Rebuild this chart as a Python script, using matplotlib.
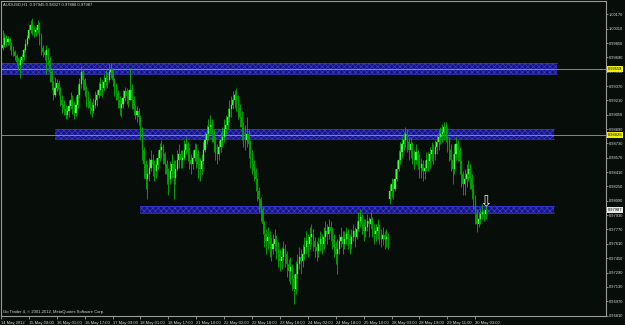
import matplotlib
matplotlib.use('Agg')
import matplotlib.pyplot as plt
from matplotlib.patches import Rectangle

# ---------------- data ----------------
title_text = "AUDUSD,H1  0.97945 0.98027 0.97888 0.97987"
footer_text = "Go Trader 4, \u00a9 2001-2012, MetaQuotes Software Corp."

close = [
    0.9983, 0.9991, 0.9986, 0.9989, 0.9983, 0.9977, 0.9975, 0.9971, 0.9964, 0.9961,
    0.9966, 0.9969, 0.9977, 0.9984, 0.9991, 1.0000, 1.0005, 1.0002, 0.9997, 1.0000,
    1.0005, 0.9994, 0.9980, 0.9975, 0.9972, 0.9977, 0.9966, 0.9953, 0.9942, 0.9927,
    0.9935, 0.9940, 0.9933, 0.9922, 0.9916, 0.9911, 0.9905, 0.9909, 0.9915, 0.9922,
    0.9913, 0.9907, 0.9916, 0.9927, 0.9939, 0.9953, 0.9944, 0.9933, 0.9924, 0.9920,
    0.9913, 0.9909, 0.9916, 0.9922, 0.9927, 0.9933, 0.9939, 0.9935, 0.9942, 0.9946,
    0.9944, 0.9953, 0.9955, 0.9944, 0.9935, 0.9929, 0.9922, 0.9913, 0.9917, 0.9924,
    0.9931, 0.9926, 0.9922, 0.9933, 0.9922, 0.9911, 0.9905, 0.9909, 0.9902, 0.9889,
    0.9866, 0.9850, 0.9833, 0.9839, 0.9846, 0.9855, 0.9850, 0.9842, 0.9849, 0.9857,
    0.9866, 0.9869, 0.9861, 0.9850, 0.9839, 0.9833, 0.9842, 0.9850, 0.9835, 0.9844,
    0.9855, 0.9861, 0.9855, 0.9857, 0.9866, 0.9872, 0.9864, 0.9855, 0.9850, 0.9857,
    0.9866, 0.9861, 0.9850, 0.9844, 0.9853, 0.9866, 0.9877, 0.9883, 0.9891, 0.9894,
    0.9883, 0.9875, 0.9866, 0.9861, 0.9869, 0.9877, 0.9880, 0.9889, 0.9894, 0.9902,
    0.9911, 0.9916, 0.9922, 0.9927, 0.9922, 0.9913, 0.9902, 0.9891, 0.9883, 0.9877,
    0.9883, 0.9872, 0.9861, 0.9850, 0.9842, 0.9833, 0.9820, 0.9811, 0.9800, 0.9783,
    0.9772, 0.9764, 0.9769, 0.9761, 0.9755, 0.9761, 0.9766, 0.9757, 0.9750, 0.9742,
    0.9746, 0.9755, 0.9750, 0.9739, 0.9731, 0.9735, 0.9722, 0.9711, 0.9727, 0.9739,
    0.9746, 0.9742, 0.9750, 0.9757, 0.9764, 0.9761, 0.9769, 0.9772, 0.9764, 0.9757,
    0.9753, 0.9761, 0.9766, 0.9761, 0.9769, 0.9775, 0.9772, 0.9780, 0.9775, 0.9766,
    0.9757, 0.9750, 0.9755, 0.9764, 0.9769, 0.9761, 0.9766, 0.9772, 0.9766, 0.9761,
    0.9769, 0.9775, 0.9769, 0.9777, 0.9786, 0.9791, 0.9783, 0.9775, 0.9780, 0.9786,
    0.9783, 0.9789, 0.9780, 0.9772, 0.9775, 0.9780, 0.9772, 0.9766, 0.9771, 0.9766,
    0.9769, 0.9764,
    0.9820, 0.9828, 0.9822, 0.9833, 0.9844, 0.9855, 0.9864, 0.9872,
    0.9877, 0.9883, 0.9875, 0.9866, 0.9872, 0.9861, 0.9855, 0.9864, 0.9855, 0.9846,
    0.9850, 0.9842, 0.9846, 0.9855, 0.9853, 0.9861, 0.9866, 0.9861, 0.9869, 0.9875,
    0.9880, 0.9883, 0.9886, 0.9891, 0.9889, 0.9877, 0.9866, 0.9855, 0.9844, 0.9861,
    0.9872, 0.9866, 0.9853, 0.9839, 0.9828, 0.9833, 0.9839, 0.9844, 0.9835, 0.9822,
    0.9813, 0.9794, 0.9783, 0.9789, 0.9794, 0.9797, 0.97945, 0.97987,
]

high = [
    1.0000, 0.9996, 0.9994, 0.9993, 0.9991, 0.9986, 0.9982, 0.9977, 0.9973, 0.9969,
    0.9971, 0.9973, 0.9980, 0.9989, 0.9994, 1.0005, 1.0011, 1.0013, 1.0005, 1.0003,
    1.0011, 1.0009, 0.9996, 0.9983, 0.9977, 0.9983, 0.9980, 0.9969, 0.9955, 0.9944,
    0.9947, 0.9945, 0.9944, 0.9936, 0.9927, 0.9922, 0.9916, 0.9915, 0.9922, 0.9930,
    0.9927, 0.9920, 0.9926, 0.9939, 0.9946, 0.9959, 0.9955, 0.9946, 0.9937, 0.9931,
    0.9924, 0.9919, 0.9924, 0.9931, 0.9933, 0.9942, 0.9947, 0.9944, 0.9950, 0.9955,
    0.9953, 0.9962, 0.9963, 0.9957, 0.9946, 0.9940, 0.9933, 0.9926, 0.9924, 0.9933,
    0.9936, 0.9935, 0.9933, 0.9957, 0.9939, 0.9926, 0.9916, 0.9915, 0.9913, 0.9905,
    0.9891, 0.9869, 0.9855, 0.9850, 0.9857, 0.9866, 0.9861, 0.9855, 0.9857, 0.9866,
    0.9874, 0.9877, 0.9872, 0.9864, 0.9855, 0.9846, 0.9853, 0.9861, 0.9855, 0.9855,
    0.9866, 0.9872, 0.9866, 0.9866, 0.9877, 0.9880, 0.9875, 0.9869, 0.9861, 0.9866,
    0.9874, 0.9872, 0.9866, 0.9857, 0.9861, 0.9875, 0.9886, 0.9894, 0.9900, 0.9905,
    0.9900, 0.9889, 0.9880, 0.9872, 0.9877, 0.9886, 0.9891, 0.9900, 0.9905, 0.9913,
    0.9922, 0.9926, 0.9931, 0.9933, 0.9935, 0.9927, 0.9917, 0.9909, 0.9897, 0.9894,
    0.9902, 0.9889, 0.9877, 0.9866, 0.9855, 0.9846, 0.9835, 0.9824, 0.9813, 0.9802,
    0.9786, 0.9777, 0.9780, 0.9775, 0.9769, 0.9772, 0.9777, 0.9771, 0.9763, 0.9755,
    0.9757, 0.9764, 0.9761, 0.9753, 0.9744, 0.9746, 0.9739, 0.9727, 0.9742, 0.9750,
    0.9757, 0.9755, 0.9761, 0.9769, 0.9775, 0.9772, 0.9780, 0.9783, 0.9777, 0.9769,
    0.9764, 0.9769, 0.9775, 0.9772, 0.9780, 0.9786, 0.9783, 0.9789, 0.9786, 0.9780,
    0.9772, 0.9764, 0.9766, 0.9772, 0.9780, 0.9775, 0.9775, 0.9780, 0.9777, 0.9772,
    0.9777, 0.9783, 0.9780, 0.9786, 0.9797, 0.9800, 0.9794, 0.9789, 0.9789, 0.9794,
    0.9791, 0.9797, 0.9791, 0.9783, 0.9783, 0.9789, 0.9783, 0.9777, 0.9780, 0.9775,
    0.9777, 0.9773,
    0.9828, 0.9835, 0.9833, 0.9844, 0.9855, 0.9866, 0.9875, 0.9880,
    0.9886, 0.9891, 0.9889, 0.9880, 0.9880, 0.9875, 0.9866, 0.9872, 0.9866, 0.9861,
    0.9857, 0.9855, 0.9855, 0.9864, 0.9864, 0.9869, 0.9875, 0.9872, 0.9877, 0.9883,
    0.9889, 0.9891, 0.9895, 0.9897, 0.9897, 0.9891, 0.9880, 0.9872, 0.9861, 0.9872,
    0.9880, 0.9877, 0.9869, 0.9855, 0.9842, 0.9844, 0.9850, 0.9855, 0.9850, 0.9839,
    0.9828, 0.9816, 0.9800, 0.9797, 0.9800, 0.9805, 0.9798, 0.98027,
]

low = [
    0.9977, 0.9981, 0.9982, 0.9983, 0.9977, 0.9972, 0.9970, 0.9966, 0.9960, 0.9955,
    0.9946, 0.9962, 0.9966, 0.9975, 0.9982, 0.9989, 0.9996, 0.9994, 0.9992, 0.9993,
    0.9996, 0.9983, 0.9972, 0.9969, 0.9966, 0.9950, 0.9960, 0.9941, 0.9933, 0.9922,
    0.9925, 0.9931, 0.9927, 0.9915, 0.9907, 0.9905, 0.9900, 0.9900, 0.9902, 0.9911,
    0.9906, 0.9900, 0.9904, 0.9913, 0.9924, 0.9935, 0.9933, 0.9926, 0.9914, 0.9913,
    0.9906, 0.9903, 0.9907, 0.9913, 0.9915, 0.9924, 0.9927, 0.9925, 0.9933, 0.9937,
    0.9935, 0.9942, 0.9946, 0.9937, 0.9926, 0.9922, 0.9913, 0.9905, 0.9903, 0.9913,
    0.9920, 0.9917, 0.9914, 0.9922, 0.9911, 0.9905, 0.9900, 0.9897, 0.9894, 0.9877,
    0.9855, 0.9835, 0.9822, 0.9811, 0.9831, 0.9842, 0.9837, 0.9831, 0.9835, 0.9844,
    0.9853, 0.9857, 0.9850, 0.9839, 0.9828, 0.9816, 0.9828, 0.9835, 0.9811, 0.9828,
    0.9842, 0.9846, 0.9846, 0.9846, 0.9855, 0.9861, 0.9853, 0.9844, 0.9839, 0.9844,
    0.9853, 0.9846, 0.9835, 0.9831, 0.9839, 0.9850, 0.9864, 0.9872, 0.9877, 0.9883,
    0.9875, 0.9864, 0.9855, 0.9850, 0.9855, 0.9864, 0.9869, 0.9875, 0.9883, 0.9889,
    0.9897, 0.9902, 0.9911, 0.9913, 0.9909, 0.9900, 0.9891, 0.9877, 0.9869, 0.9866,
    0.9869, 0.9857, 0.9846, 0.9839, 0.9831, 0.9820, 0.9809, 0.9797, 0.9786, 0.9772,
    0.9757, 0.9750, 0.9755, 0.9746, 0.9742, 0.9750, 0.9753, 0.9744, 0.9735, 0.9731,
    0.9733, 0.9742, 0.9735, 0.9724, 0.9720, 0.9716, 0.9709, 0.9694, 0.9705, 0.9722,
    0.9733, 0.9727, 0.9735, 0.9744, 0.9750, 0.9746, 0.9755, 0.9761, 0.9753, 0.9746,
    0.9742, 0.9746, 0.9753, 0.9750, 0.9755, 0.9764, 0.9761, 0.9766, 0.9764, 0.9755,
    0.9746, 0.9739, 0.9727, 0.9750, 0.9757, 0.9750, 0.9755, 0.9761, 0.9755, 0.9750,
    0.9755, 0.9764, 0.9757, 0.9766, 0.9775, 0.9780, 0.9772, 0.9764, 0.9769, 0.9775,
    0.9769, 0.9777, 0.9769, 0.9761, 0.9764, 0.9766, 0.9761, 0.9757, 0.9760, 0.9755,
    0.9757, 0.9755,
    0.9805, 0.9813, 0.9811, 0.9820, 0.9831, 0.9842, 0.9850, 0.9857,
    0.9866, 0.9869, 0.9864, 0.9855, 0.9857, 0.9850, 0.9844, 0.9850, 0.9844, 0.9835,
    0.9835, 0.9831, 0.9833, 0.9842, 0.9842, 0.9846, 0.9853, 0.9850, 0.9855, 0.9861,
    0.9866, 0.9872, 0.9875, 0.9877, 0.9875, 0.9864, 0.9853, 0.9842, 0.9828, 0.9839,
    0.9855, 0.9853, 0.9839, 0.9824, 0.9816, 0.9816, 0.9824, 0.9831, 0.9822, 0.9811,
    0.9800, 0.9783, 0.9774, 0.9780, 0.9783, 0.9789, 0.9786, 0.97888,
]

first_open = 0.9980
gap_opens = {222: 0.9811}          # Monday 28 May gap

time_labels = ["14 May 2012", "15 May 09:00", "16 May 01:00", "16 May 17:00",
               "17 May 09:00", "18 May 01:00", "18 May 17:00", "21 May 10:00",
               "22 May 02:00", "22 May 18:00", "23 May 10:00", "24 May 02:00",
               "24 May 18:00", "25 May 10:00", "28 May 03:00", "28 May 19:00",
               "29 May 11:00", "30 May 03:00"]
time_label_bars = [-1, 15, 31, 47, 63, 79, 95, 111, 127, 143, 159, 175,
                   191, 207, 223, 239, 255, 271]

price_ticks = [1.00170, 1.00010, 0.99850, 0.99690, 0.99530, 0.99370, 0.99210,
               0.99050, 0.98890, 0.98730, 0.98570, 0.98410, 0.98250, 0.98090,
               0.97930, 0.97770, 0.97610, 0.97450, 0.97290, 0.97130, 0.96970,
               0.96810]

# support / resistance zones: (first bar, last bar, low price, high price)
zone_bars_start = [-2, 30, 79]
zone_bars_end = [318, 316, 316]
zone_low = [0.9951, 0.9878, 0.9795]
zone_high = [0.9963, 0.9889, 0.9803]

level_lines = [0.99559, 0.98826]
bid_price = 0.97987
arrow_bar = 277.3
arrow_price = 0.98085

# ---------------- drawing ----------------
BG = '#070d09'
FRAME = '#9a9a9a'
TXT = '#d8d8d8'
FONT = 'Liberation Sans'
LBL = 2.9

fig = plt.figure(figsize=(6.25, 3.25), dpi=100, facecolor=BG)
ax = fig.add_axes([1 / 625, 9 / 325, 605 / 625, 315 / 325], facecolor=BG)

n = min(len(close), len(high), len(low))
opens = []
for i in range(n):
    if i in gap_opens:
        opens.append(gap_opens[i])
    elif i == 0:
        opens.append(first_open)
    else:
        opens.append(close[i - 1])

plt.rcParams['hatch.linewidth'] = 0.5
for xs, xe, lo, hi in zip(zone_bars_start, zone_bars_end, zone_low, zone_high):
    ax.add_patch(Rectangle((xs, lo), xe - xs, hi - lo, facecolor='#16167a',
                           edgecolor='#3b3bd6', hatch='xxxxxx', lw=0.0, zorder=1))
    ax.plot([xs, xe], [hi, hi], color='#3b3bd6', lw=0.5, zorder=1.1)
    ax.plot([xs, xe], [lo, lo], color='#3b3bd6', lw=0.5, zorder=1.1)

for lv in level_lines:
    ax.axhline(lv, color='#a89a6a', lw=0.6, zorder=1.5)

for i in range(n):
    o, c = opens[i], close[i]
    h = max(high[i], o, c)
    l = min(low[i], o, c)
    ax.vlines(i, l, h, color='#00b400', lw=0.6, zorder=2)
    bot = min(o, c)
    hgt = max(abs(c - o), 0.00004)
    col = '#3cff3c' if c >= o else '#00a000'
    ax.add_patch(Rectangle((i - 0.32, bot), 0.64, hgt, facecolor=col,
                           edgecolor=col, lw=0.2, zorder=3))

ax.text(arrow_bar, arrow_price, '\u21e9', color='#e2dccc', fontsize=11,
        ha='center', va='center', family='DejaVu Sans', zorder=5)

ax.set_xlim(-1, 346)
ax.set_ylim(0.96805, 1.00319)

for s in ax.spines.values():
    s.set_color(FRAME)
    s.set_linewidth(0.8)

ax.yaxis.tick_right()
ax.set_yticks(price_ticks)
ax.set_yticklabels(['%.5f' % p for p in price_ticks])
ax.tick_params(axis='y', colors=FRAME, length=1.5, width=0.6, pad=0.8,
               labelsize=LBL, labelcolor=TXT)
for t in ax.get_yticklabels():
    t.set_family(FONT)

ax.set_xticks(time_label_bars)
ax.set_xticklabels(time_labels, ha='left')
ax.tick_params(axis='x', colors=FRAME, length=2.5, width=0.6, pad=1,
               labelsize=3.0, labelcolor=TXT)
for t in ax.get_xticklabels():
    t.set_family(FONT)

for lv in level_lines:
    ax.text(1.003, lv, '%.5f' % lv, transform=ax.get_yaxis_transform(),
            fontsize=LBL, family=FONT, color='black', va='center', ha='left',
            bbox=dict(boxstyle='square,pad=0.2', fc='#f0f000', ec='none'), zorder=10,
            clip_on=False)
ax.text(1.003, bid_price, '%.5f' % bid_price, transform=ax.get_yaxis_transform(),
        fontsize=LBL, family=FONT, color='black', va='center', ha='left',
        bbox=dict(boxstyle='square,pad=0.2', fc='#e8e8e8', ec='none'), zorder=10,
        clip_on=False)

fig.text(3 / 625, 1 - 5 / 325, title_text, fontsize=3.0, family=FONT,
         color=TXT, va='center', ha='left')
fig.text(3 / 625, 1 - 312 / 325, footer_text, fontsize=3.0, family=FONT,
         color=TXT, va='center', ha='left')

fig.savefig('out.png', dpi=100, facecolor=BG)
